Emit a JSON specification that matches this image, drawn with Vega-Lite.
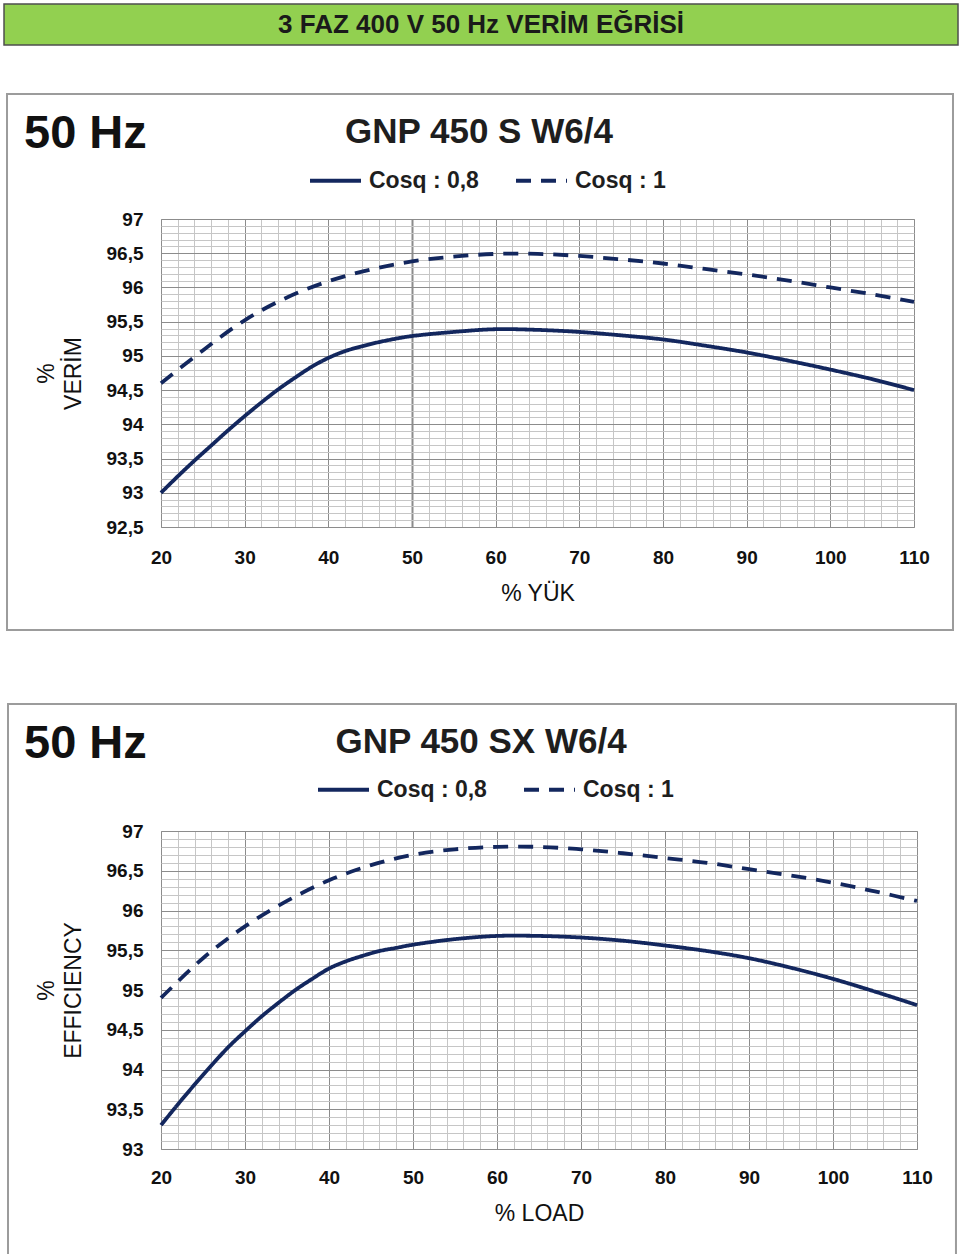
{
  "$schema": "https://vega.github.io/schema/vega-lite/v6.json",
  "background": "white",
  "padding": {"left": 2, "top": 2, "right": 0, "bottom": 0},
  "datasets": {
    "top": [
      {"load": 20, "eff": 93.0, "series": "Cosq : 0,8"},
      {"load": 22, "eff": 93.24, "series": "Cosq : 0,8"},
      {"load": 24, "eff": 93.47, "series": "Cosq : 0,8"},
      {"load": 26, "eff": 93.69, "series": "Cosq : 0,8"},
      {"load": 28, "eff": 93.91, "series": "Cosq : 0,8"},
      {"load": 30, "eff": 94.12, "series": "Cosq : 0,8"},
      {"load": 32, "eff": 94.32, "series": "Cosq : 0,8"},
      {"load": 34, "eff": 94.51, "series": "Cosq : 0,8"},
      {"load": 36, "eff": 94.68, "series": "Cosq : 0,8"},
      {"load": 38, "eff": 94.84, "series": "Cosq : 0,8"},
      {"load": 40, "eff": 94.97, "series": "Cosq : 0,8"},
      {"load": 42, "eff": 95.07, "series": "Cosq : 0,8"},
      {"load": 44, "eff": 95.14, "series": "Cosq : 0,8"},
      {"load": 46, "eff": 95.2, "series": "Cosq : 0,8"},
      {"load": 48, "eff": 95.25, "series": "Cosq : 0,8"},
      {"load": 50, "eff": 95.29, "series": "Cosq : 0,8"},
      {"load": 55, "eff": 95.35, "series": "Cosq : 0,8"},
      {"load": 60, "eff": 95.39, "series": "Cosq : 0,8"},
      {"load": 65, "eff": 95.38, "series": "Cosq : 0,8"},
      {"load": 70, "eff": 95.35, "series": "Cosq : 0,8"},
      {"load": 75, "eff": 95.3, "series": "Cosq : 0,8"},
      {"load": 80, "eff": 95.24, "series": "Cosq : 0,8"},
      {"load": 85, "eff": 95.15, "series": "Cosq : 0,8"},
      {"load": 90, "eff": 95.05, "series": "Cosq : 0,8"},
      {"load": 95, "eff": 94.93, "series": "Cosq : 0,8"},
      {"load": 100, "eff": 94.8, "series": "Cosq : 0,8"},
      {"load": 105, "eff": 94.66, "series": "Cosq : 0,8"},
      {"load": 110, "eff": 94.5, "series": "Cosq : 0,8"},
      {"load": 20, "eff": 94.6, "series": "Cosq : 1"},
      {"load": 25, "eff": 95.08, "series": "Cosq : 1"},
      {"load": 30, "eff": 95.52, "series": "Cosq : 1"},
      {"load": 35, "eff": 95.85, "series": "Cosq : 1"},
      {"load": 40, "eff": 96.09, "series": "Cosq : 1"},
      {"load": 45, "eff": 96.26, "series": "Cosq : 1"},
      {"load": 50, "eff": 96.38, "series": "Cosq : 1"},
      {"load": 55, "eff": 96.45, "series": "Cosq : 1"},
      {"load": 60, "eff": 96.49, "series": "Cosq : 1"},
      {"load": 65, "eff": 96.49, "series": "Cosq : 1"},
      {"load": 70, "eff": 96.46, "series": "Cosq : 1"},
      {"load": 75, "eff": 96.41, "series": "Cosq : 1"},
      {"load": 80, "eff": 96.35, "series": "Cosq : 1"},
      {"load": 85, "eff": 96.27, "series": "Cosq : 1"},
      {"load": 90, "eff": 96.19, "series": "Cosq : 1"},
      {"load": 95, "eff": 96.1, "series": "Cosq : 1"},
      {"load": 100, "eff": 96.0, "series": "Cosq : 1"},
      {"load": 105, "eff": 95.9, "series": "Cosq : 1"},
      {"load": 110, "eff": 95.79, "series": "Cosq : 1"}
    ],
    "bottom": [
      {"load": 20, "eff": 93.3, "series": "Cosq : 0,8"},
      {"load": 22, "eff": 93.56, "series": "Cosq : 0,8"},
      {"load": 24, "eff": 93.81, "series": "Cosq : 0,8"},
      {"load": 26, "eff": 94.05, "series": "Cosq : 0,8"},
      {"load": 28, "eff": 94.28, "series": "Cosq : 0,8"},
      {"load": 30, "eff": 94.48, "series": "Cosq : 0,8"},
      {"load": 32, "eff": 94.67, "series": "Cosq : 0,8"},
      {"load": 34, "eff": 94.84, "series": "Cosq : 0,8"},
      {"load": 36, "eff": 95.0, "series": "Cosq : 0,8"},
      {"load": 38, "eff": 95.14, "series": "Cosq : 0,8"},
      {"load": 40, "eff": 95.27, "series": "Cosq : 0,8"},
      {"load": 42, "eff": 95.36, "series": "Cosq : 0,8"},
      {"load": 44, "eff": 95.43, "series": "Cosq : 0,8"},
      {"load": 46, "eff": 95.49, "series": "Cosq : 0,8"},
      {"load": 48, "eff": 95.53, "series": "Cosq : 0,8"},
      {"load": 50, "eff": 95.57, "series": "Cosq : 0,8"},
      {"load": 55, "eff": 95.64, "series": "Cosq : 0,8"},
      {"load": 60, "eff": 95.68, "series": "Cosq : 0,8"},
      {"load": 65, "eff": 95.68, "series": "Cosq : 0,8"},
      {"load": 70, "eff": 95.66, "series": "Cosq : 0,8"},
      {"load": 75, "eff": 95.62, "series": "Cosq : 0,8"},
      {"load": 80, "eff": 95.56, "series": "Cosq : 0,8"},
      {"load": 85, "eff": 95.49, "series": "Cosq : 0,8"},
      {"load": 90, "eff": 95.4, "series": "Cosq : 0,8"},
      {"load": 95, "eff": 95.28, "series": "Cosq : 0,8"},
      {"load": 100, "eff": 95.14, "series": "Cosq : 0,8"},
      {"load": 105, "eff": 94.98, "series": "Cosq : 0,8"},
      {"load": 110, "eff": 94.81, "series": "Cosq : 0,8"},
      {"load": 20, "eff": 94.9, "series": "Cosq : 1"},
      {"load": 25, "eff": 95.4, "series": "Cosq : 1"},
      {"load": 30, "eff": 95.8, "series": "Cosq : 1"},
      {"load": 35, "eff": 96.12, "series": "Cosq : 1"},
      {"load": 40, "eff": 96.38, "series": "Cosq : 1"},
      {"load": 45, "eff": 96.57, "series": "Cosq : 1"},
      {"load": 50, "eff": 96.7, "series": "Cosq : 1"},
      {"load": 55, "eff": 96.77, "series": "Cosq : 1"},
      {"load": 60, "eff": 96.8, "series": "Cosq : 1"},
      {"load": 65, "eff": 96.8, "series": "Cosq : 1"},
      {"load": 70, "eff": 96.77, "series": "Cosq : 1"},
      {"load": 75, "eff": 96.72, "series": "Cosq : 1"},
      {"load": 80, "eff": 96.66, "series": "Cosq : 1"},
      {"load": 85, "eff": 96.6, "series": "Cosq : 1"},
      {"load": 90, "eff": 96.52, "series": "Cosq : 1"},
      {"load": 95, "eff": 96.44, "series": "Cosq : 1"},
      {"load": 100, "eff": 96.35, "series": "Cosq : 1"},
      {"load": 105, "eff": 96.24, "series": "Cosq : 1"},
      {"load": 110, "eff": 96.12, "series": "Cosq : 1"}
    ]
  },
  "spacing": 70,
  "resolve": {"scale": {"strokeDash": "independent"}, "legend": {"strokeDash": "independent"}},
  "vconcat": [
    {
      "width": 753,
      "height": 308,
      "resolve": {"axis": {"x": "independent", "y": "independent"}},
      "layer": [
        {
          "data": {"name": "top"},
          "mark": {"type": "line", "color": "#13275e", "strokeWidth": 3.8, "interpolate": "catmull-rom", "strokeCap": "butt"},
          "encoding": {
            "x": {
              "field": "load", "type": "quantitative",
              "scale": {"domain": [20, 110], "nice": false, "zero": false},
              "axis": {
                "values": [20,22,24,26,28,30,32,34,36,38,40,42,44,46,48,50,52,54,56,58,60,62,64,66,68,70,72,74,76,78,80,82,84,86,88,90,92,94,96,98,100,102,104,106,108,110],
                "title": "% YÜK",
                "labelExpr": "datum.value % 10 == 0 ? datum.label : ''",
                "gridColor": {"condition": {"test": "datum.value % 10 == 0", "value": "#8c8c8c"}, "value": "#c6c6c6"},
                "gridWidth": {"condition": {"test": "datum.value == 50", "value": 2}, "value": 1},
                "labelPadding": 21,
                "titlePadding": 15
              }
            },
            "y": {
              "field": "eff", "type": "quantitative",
              "scale": {"domain": [92.5, 97], "nice": false, "zero": false},
              "axis": {
                "values": [92.5,92.6,92.7,92.8,92.9,93,93.1,93.2,93.3,93.4,93.5,93.6,93.7,93.8,93.9,94,94.1,94.2,94.3,94.4,94.5,94.6,94.7,94.8,94.9,95,95.1,95.2,95.3,95.4,95.5,95.6,95.7,95.8,95.9,96,96.1,96.2,96.3,96.4,96.5,96.6,96.7,96.8,96.9,97],
                "title": ["%", "VERİM"],
                "labelExpr": "abs(datum.value*2 - round(datum.value*2)) < 0.01 ? replace(format(datum.value, '.1~f'), '.', ',') : ''",
                "gridColor": {"condition": {"test": "abs(datum.value*2 - round(datum.value*2)) < 0.01", "value": "#8c8c8c"}, "value": "#c6c6c6"}
              }
            },
            "strokeDash": {
              "field": "series", "type": "nominal",
              "scale": {"domain": ["Cosq : 0,8", "Cosq : 1"], "range": [[1, 0], [15, 10]]},
              "legend": {"orient": "none", "legendX": 147, "legendY": -66, "direction": "horizontal", "title": null}
            }
          }
        },
        {
          "data": {"values": [{"banner": "3 FAZ 400 V 50 Hz VERİM EĞRİSİ"}]},
          "mark": {"type": "rect", "color": "#92d050", "stroke": "#4e4e4e", "strokeWidth": 1.5, "clip": false},
          "encoding": {
            "x": {"datum": 1.236, "type": "quantitative", "axis": null},
            "x2": {"datum": 115.26},
            "y": {"datum": 100.141, "type": "quantitative", "axis": null},
            "y2": {"datum": 99.542}
          }
        },
        {
          "data": {"values": [{"banner": "3 FAZ 400 V 50 Hz VERİM EĞRİSİ"}]},
          "mark": {"type": "text", "font": "Liberation Sans", "fontWeight": "bold", "fontSize": 26, "color": "#1a1a1a", "baseline": "middle", "align": "center", "clip": false},
          "encoding": {
            "x": {"datum": 58.25, "type": "quantitative", "axis": null},
            "y": {"datum": 99.835, "type": "quantitative", "axis": null},
            "text": {"field": "banner", "type": "nominal"}
          }
        },
        {
          "data": {"values": [{"frame": "panel"}]},
          "mark": {"type": "rect", "filled": false, "color": "#9c9c9c", "strokeWidth": 2, "clip": false},
          "encoding": {
            "x": {"datum": 1.595, "type": "quantitative", "axis": null},
            "x2": {"datum": 114.66},
            "y": {"datum": 98.826, "type": "quantitative", "axis": null},
            "y2": {"datum": 90.995}
          }
        },
        {
          "data": {"values": [{"label": "50 Hz"}]},
          "mark": {"type": "text", "align": "left", "baseline": "alphabetic", "fontSize": 47, "fontWeight": "bold", "color": "#111111", "font": "Liberation Sans", "clip": false},
          "encoding": {
            "x": {"datum": 3.63, "type": "quantitative", "axis": null},
            "y": {"datum": 98.037, "type": "quantitative", "axis": null},
            "text": {"field": "label", "type": "nominal"}
          }
        },
        {
          "data": {"values": [{"label": "GNP 450 S W6/4"}]},
          "mark": {"type": "text", "align": "center", "baseline": "alphabetic", "fontSize": 35, "fontWeight": "bold", "color": "#1e1e1e", "font": "Liberation Sans", "clip": false},
          "encoding": {
            "x": {"datum": 58.0, "type": "quantitative", "axis": null},
            "y": {"datum": 98.11, "type": "quantitative", "axis": null},
            "text": {"field": "label", "type": "nominal"}
          }
        }
      ]
    },
    {
      "width": 756,
      "height": 318,
      "resolve": {"axis": {"x": "independent", "y": "independent"}},
      "layer": [
        {
          "data": {"name": "bottom"},
          "mark": {"type": "line", "color": "#13275e", "strokeWidth": 3.8, "interpolate": "catmull-rom", "strokeCap": "butt"},
          "encoding": {
            "x": {
              "field": "load", "type": "quantitative",
              "scale": {"domain": [20, 110], "nice": false, "zero": false},
              "axis": {
                "values": [20,22,24,26,28,30,32,34,36,38,40,42,44,46,48,50,52,54,56,58,60,62,64,66,68,70,72,74,76,78,80,82,84,86,88,90,92,94,96,98,100,102,104,106,108,110],
                "title": "% LOAD",
                "labelExpr": "datum.value % 10 == 0 ? datum.label : ''",
                "gridColor": {"condition": {"test": "datum.value % 10 == 0", "value": "#8c8c8c"}, "value": "#c6c6c6"},
                "labelPadding": 19,
                "titlePadding": 15
              }
            },
            "y": {
              "field": "eff", "type": "quantitative",
              "scale": {"domain": [93, 97], "nice": false, "zero": false},
              "axis": {
                "values": [93,93.1,93.2,93.3,93.4,93.5,93.6,93.7,93.8,93.9,94,94.1,94.2,94.3,94.4,94.5,94.6,94.7,94.8,94.9,95,95.1,95.2,95.3,95.4,95.5,95.6,95.7,95.8,95.9,96,96.1,96.2,96.3,96.4,96.5,96.6,96.7,96.8,96.9,97],
                "title": ["%", "EFFICIENCY"],
                "labelExpr": "abs(datum.value*2 - round(datum.value*2)) < 0.01 ? replace(format(datum.value, '.1~f'), '.', ',') : ''",
                "gridColor": {"condition": {"test": "abs(datum.value*2 - round(datum.value*2)) < 0.01", "value": "#8c8c8c"}, "value": "#c6c6c6"}
              }
            },
            "strokeDash": {
              "field": "series", "type": "nominal",
              "scale": {"domain": ["Cosq : 0,8", "Cosq : 1"], "range": [[1, 0], [15, 10]]},
              "legend": {"orient": "none", "legendX": 155, "legendY": -69, "direction": "horizontal", "title": null}
            }
          }
        },
        {
          "data": {"values": [{"frame": "panel"}]},
          "mark": {"type": "rect", "filled": false, "color": "#9c9c9c", "strokeWidth": 2, "clip": false},
          "encoding": {
            "x": {"datum": 1.786, "type": "quantitative", "axis": null},
            "x2": {"datum": 114.64},
            "y": {"datum": 98.597, "type": "quantitative", "axis": null},
            "y2": {"datum": 91.667}
          }
        },
        {
          "data": {"values": [{"label": "50 Hz"}]},
          "mark": {"type": "text", "align": "left", "baseline": "alphabetic", "fontSize": 47, "fontWeight": "bold", "color": "#111111", "font": "Liberation Sans", "clip": false},
          "encoding": {
            "x": {"datum": 3.69, "type": "quantitative", "axis": null},
            "y": {"datum": 97.918, "type": "quantitative", "axis": null},
            "text": {"field": "label", "type": "nominal"}
          }
        },
        {
          "data": {"values": [{"label": "GNP 450 SX W6/4"}]},
          "mark": {"type": "text", "align": "center", "baseline": "alphabetic", "fontSize": 35, "fontWeight": "bold", "color": "#1e1e1e", "font": "Liberation Sans", "clip": false},
          "encoding": {
            "x": {"datum": 58.1, "type": "quantitative", "axis": null},
            "y": {"datum": 97.981, "type": "quantitative", "axis": null},
            "text": {"field": "label", "type": "nominal"}
          }
        }
      ]
    }
  ],
  "config": {
    "font": "Liberation Sans",
    "view": {"stroke": "#a0a0a0"},
    "axis": {
      "ticks": false,
      "domain": false,
      "labelFont": "Liberation Sans",
      "labelFontWeight": "bold",
      "labelFontSize": 19,
      "labelColor": "#111111",
      "labelFlush": false,
      "titleFont": "Liberation Sans",
      "titleFontWeight": "normal",
      "titleFontSize": 23,
      "titleColor": "#111111",
      "labelOverlap": false,
      "gridOpacity": 1
    },
    "axisY": {"titleLineHeight": 27, "titleFontSize": 23, "labelPadding": 18, "titlePadding": 21},
    "legend": {
      "labelFont": "Liberation Sans",
      "labelFontSize": 23,
      "labelFontWeight": "bold",
      "labelColor": "#1e1e1e",
      "symbolType": "stroke",
      "symbolSize": 2600,
      "symbolStrokeWidth": 3.8,
      "symbolStrokeColor": "#13275e",
      "labelOffset": 6,
      "columnPadding": 29,
      "labelLimit": 300
    }
  }
}
